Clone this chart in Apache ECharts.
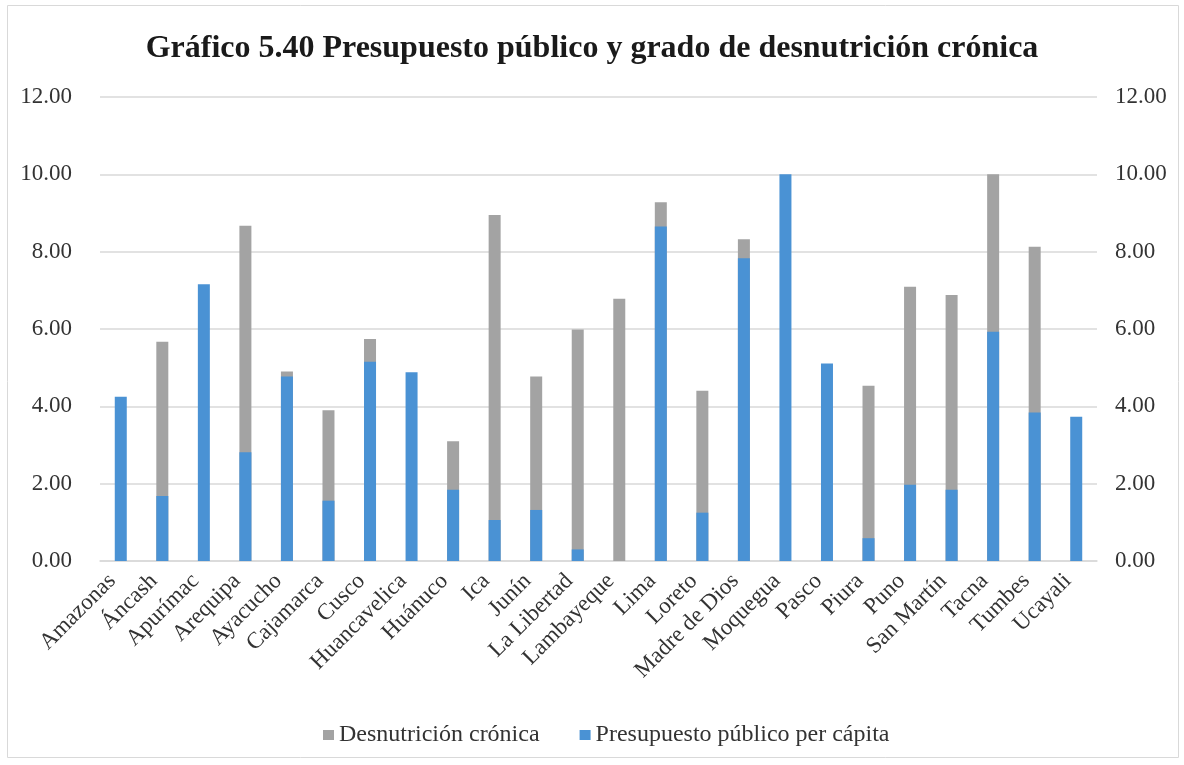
<!DOCTYPE html>
<html>
<head>
<meta charset="utf-8">
<script src="https://cdn.jsdelivr.net/npm/echarts@6/dist/echarts.min.js"></script>
<style>
  html, body { margin: 0; padding: 0; background: #fff; }
  #chart { width: 1184px; height: 765px; }
</style>
</head>
<body>
<div id="chart"></div>
<script>
const regions = [
  "Amazonas", "Áncash", "Apurímac", "Arequipa", "Ayacucho", "Cajamarca",
  "Cusco", "Huancavelica", "Huánuco", "Ica", "Junín", "La Libertad",
  "Lambayeque", "Lima", "Loreto", "Madre de Dios", "Moquegua", "Pasco",
  "Piura", "Puno", "San Martín", "Tacna", "Tumbes", "Ucayali",
];
// gris, detrás
const desnutricion = [
  0, 5.67, 0, 8.67, 4.9, 3.9, 5.74, 0, 3.1, 8.95, 4.77, 5.99,
  6.78, 9.28, 4.4, 8.32, 0, 0, 4.53, 7.09, 6.88, 10.0, 8.13, 0,
];
// azul, delante
const presupuesto = [
  4.25, 1.68, 7.16, 2.81, 4.77, 1.56, 5.15, 4.88, 1.84, 1.06, 1.32, 0.3,
  0, 8.65, 1.25, 7.83, 10.0, 5.11, 0.59, 1.97, 1.84, 5.93, 3.84, 3.73,
];
const yTicks = { min: 0, max: 12, interval: 2 };

const serif = "'Liberation Serif', 'Times New Roman', serif";
const chart = echarts.init(document.getElementById("chart"));

const yAxisBase = {
  type: "value",
  min: yTicks.min,
  max: yTicks.max,
  interval: yTicks.interval,
  axisLine: { show: false },
  axisTick: { show: false },
};

chart.setOption({
  animation: false,
  graphic: [
    {
      type: "rect",
      shape: { x: 7.5, y: 5.5, width: 1171, height: 752 },
      style: { fill: "none", stroke: "#d9d9d9", lineWidth: 1 },
      silent: true,
    },
  ],
  title: {
    text: "Gráfico 5.40 Presupuesto público y grado de desnutrición crónica",
    left: "center",
    top: 28,
    textStyle: {
      fontFamily: serif,
      fontWeight: "bold",
      fontSize: 32,
      color: "#1a1a1a",
    },
  },
  legend: {
    bottom: 13,
    left: 318,
    itemWidth: 11,
    itemHeight: 10,
    itemGap: 40,
    icon: "rect",
    textStyle: { fontFamily: serif, fontSize: 24, color: "#333" },
    data: ["Desnutrición crónica", "Presupuesto público per cápita"],
  },
  grid: { left: 100, right: 87, top: 97, bottom: 204 },
  xAxis: {
    type: "category",
    data: regions,
    axisLine: { lineStyle: { color: "#d9d9d9", width: 1.5 } },
    axisTick: { show: false },
    axisLabel: {
      interval: 0,
      rotate: 45,
      margin: 8,
      padding: [0, 12, 0, 0],
      fontFamily: serif,
      fontSize: 23,
      color: "#333",
    },
  },
  yAxis: [
    Object.assign({}, yAxisBase, {
      position: "left",
      splitLine: { lineStyle: { color: "#d9d9d9", width: 1.5 } },
      axisLabel: {
        margin: 28,
        fontFamily: serif,
        fontSize: 23,
        color: "#333",
        formatter: (v) => v.toFixed(2),
      },
    }),
    Object.assign({}, yAxisBase, {
      position: "right",
      splitLine: { show: false },
      axisLabel: {
        margin: 18,
        fontFamily: serif,
        fontSize: 23,
        color: "#333",
        formatter: (v) => v.toFixed(2),
      },
    }),
  ],
  series: [
    {
      name: "Desnutrición crónica",
      type: "bar",
      data: desnutricion,
      barWidth: 12,
      barGap: "-100%",
      itemStyle: { color: "#a3a3a3" },
    },
    {
      name: "Presupuesto público per cápita",
      type: "bar",
      data: presupuesto,
      barWidth: 12,
      barGap: "-100%",
      itemStyle: { color: "#4a92d4" },
    },
  ],
});
</script>
</body>
</html>
